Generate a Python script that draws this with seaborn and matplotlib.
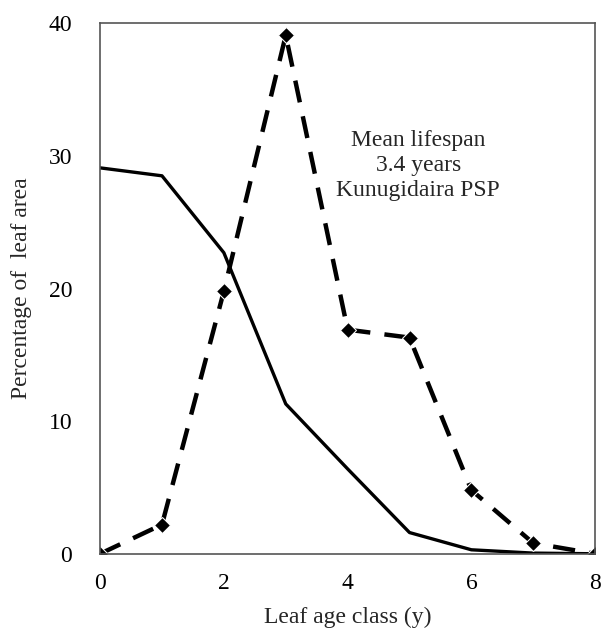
import matplotlib
matplotlib.use("Agg")
import matplotlib.pyplot as plt
import seaborn as sns
import pandas as pd

age_class = [0, 1, 2, 3, 4, 5, 6, 7, 8]
survival = [29.1, 28.5, 22.7, 11.3, 6.4, 1.6, 0.3, 0.05, 0.0]
distribution = [0.0, 2.2, 19.8, 39.1, 16.9, 16.3, 4.8, 0.8, 0.0]

df = pd.DataFrame({"age": age_class, "surv": survival, "dist": distribution})

sns.set_style("white")
plt.rcParams["font.family"] = ["Liberation Serif", "DejaVu Serif"]

fig, ax = plt.subplots(figsize=(6.03, 6.30), dpi=100)
fig.subplots_adjust(left=0.166, right=0.987, top=0.963, bottom=0.121)

sns.lineplot(data=df, x="age", y="surv", ax=ax, color="black", lw=2.4)
sns.lineplot(data=df, x="age", y="dist", ax=ax, color="black", lw=3.2,
             marker="D", markersize=8, dashes=False)
ax.lines[-1].set_dashes([5, 3.2])

ax.set_xlim(0, 8)
ax.set_ylim(0, 40)
ax.set_xticks([0, 2, 4, 6, 8])
ax.set_yticks([0, 10, 20, 30, 40])
ax.tick_params(direction="in", length=5, width=1, colors="#555555",
               labelcolor="black", labelsize=17)
ax.tick_params(axis="y", pad=20)
ax.tick_params(axis="x", pad=14)
for s in ax.spines.values():
    s.set_color("#555555")
    s.set_linewidth(1.2)

ax.set_xlabel("Leaf age class (y)", fontsize=17, labelpad=9)
ax.set_ylabel("Percentage of  leaf area", fontsize=17, labelpad=12)

ax.text(5.14, 29.3, "Mean lifespan\n3.4 years\nKunugidaira PSP", ha="center",
        va="center", fontsize=17, linespacing=1.25)

fig.savefig("out.png", dpi=100)
